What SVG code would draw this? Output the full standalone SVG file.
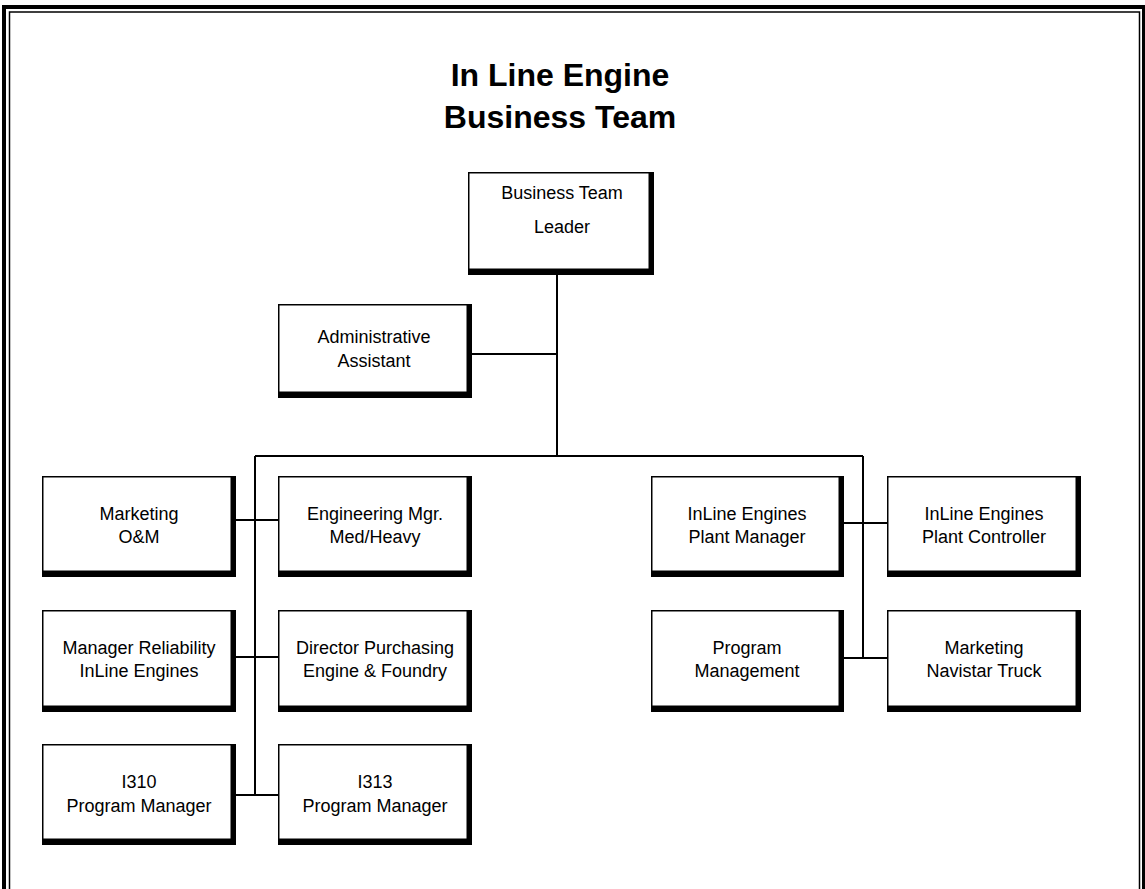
<svg xmlns="http://www.w3.org/2000/svg" width="1145" height="889" viewBox="0 0 1145 889">
<style>
.sh{fill:#000}
.bx{fill:#fff;stroke:none}
.t{font-family:"Liberation Sans",Arial,sans-serif;font-size:18px;fill:#000;text-anchor:middle}
.ti{font-family:"Liberation Sans",Arial,sans-serif;font-size:32px;font-weight:bold;fill:#000;text-anchor:middle}
.c{stroke:#000;stroke-width:2;fill:none}
</style>
<rect width="1145" height="889" fill="#fff"/>
<g id="frame">
<rect x="2" y="5" width="4" height="884" fill="#000"/>
<rect x="2" y="5" width="1143" height="4" fill="#000"/>
<rect x="1142" y="5" width="3" height="884" fill="#000"/>
<path d="M9.5 889 V12 H1139.5 V889" fill="none" stroke="#000" stroke-width="1.5"/>
</g>
<g id="title">
<text class="ti" x="560" y="86">In Line Engine</text>
<text class="ti" x="560" y="128">Business Team</text>
</g>
<g id="connectors">
<path class="c" d="M557 275 V456"/>
<path class="c" d="M472 354 H557"/>
<path class="c" d="M255 456 H863"/>
<path class="c" d="M255 456 V795"/>
<path class="c" d="M863 456 V658"/>
<path class="c" d="M236 520 H278"/>
<path class="c" d="M236 657 H278"/>
<path class="c" d="M236 795 H278"/>
<path class="c" d="M844 523 H887"/>
<path class="c" d="M844 658 H887"/>
</g>
<g id="leader">
<rect class="sh" x="468" y="172" width="186" height="103"/>
<rect class="bx" x="469.5" y="173.5" width="179" height="95"/>
<text class="t" x="562" y="199">Business Team</text>
<text class="t" x="562" y="233">Leader</text>
</g>
<g id="admin">
<rect class="sh" x="278" y="304" width="194" height="94"/>
<rect class="bx" x="279.5" y="305.5" width="187" height="86"/>
<text class="t" x="374" y="343">Administrative</text>
<text class="t" x="374" y="367">Assistant</text>
</g>
<g id="marketing-om">
<rect class="sh" x="42" y="476" width="194" height="101"/>
<rect class="bx" x="43.5" y="477.5" width="187" height="93"/>
<text class="t" x="139" y="520">Marketing</text>
<text class="t" x="139" y="543">O&amp;M</text>
</g>
<g id="engineering">
<rect class="sh" x="278" y="476" width="194" height="101"/>
<rect class="bx" x="279.5" y="477.5" width="187" height="93"/>
<text class="t" x="375" y="520">Engineering Mgr.</text>
<text class="t" x="375" y="543">Med/Heavy</text>
</g>
<g id="reliability">
<rect class="sh" x="42" y="610" width="194" height="102"/>
<rect class="bx" x="43.5" y="611.5" width="187" height="94"/>
<text class="t" x="139" y="654">Manager Reliability</text>
<text class="t" x="139" y="677">InLine Engines</text>
</g>
<g id="purchasing">
<rect class="sh" x="278" y="610" width="194" height="102"/>
<rect class="bx" x="279.5" y="611.5" width="187" height="94"/>
<text class="t" x="375" y="654">Director Purchasing</text>
<text class="t" x="375" y="677">Engine &amp; Foundry</text>
</g>
<g id="i310">
<rect class="sh" x="42" y="744" width="194" height="101"/>
<rect class="bx" x="43.5" y="745.5" width="187" height="93"/>
<text class="t" x="139" y="788">I310</text>
<text class="t" x="139" y="812">Program Manager</text>
</g>
<g id="i313">
<rect class="sh" x="278" y="744" width="194" height="101"/>
<rect class="bx" x="279.5" y="745.5" width="187" height="93"/>
<text class="t" x="375" y="788">I313</text>
<text class="t" x="375" y="812">Program Manager</text>
</g>
<g id="plant-manager">
<rect class="sh" x="651" y="476" width="193" height="101"/>
<rect class="bx" x="652.5" y="477.5" width="186" height="93"/>
<text class="t" x="747" y="520">InLine Engines</text>
<text class="t" x="747" y="543">Plant Manager</text>
</g>
<g id="plant-controller">
<rect class="sh" x="887" y="476" width="194" height="101"/>
<rect class="bx" x="888.5" y="477.5" width="187" height="93"/>
<text class="t" x="984" y="520">InLine Engines</text>
<text class="t" x="984" y="543">Plant Controller</text>
</g>
<g id="program-management">
<rect class="sh" x="651" y="610" width="193" height="102"/>
<rect class="bx" x="652.5" y="611.5" width="186" height="94"/>
<text class="t" x="747" y="654">Program</text>
<text class="t" x="747" y="677">Management</text>
</g>
<g id="marketing-navistar">
<rect class="sh" x="887" y="610" width="194" height="102"/>
<rect class="bx" x="888.5" y="611.5" width="187" height="94"/>
<text class="t" x="984" y="654">Marketing</text>
<text class="t" x="984" y="677">Navistar Truck</text>
</g>
</svg>
